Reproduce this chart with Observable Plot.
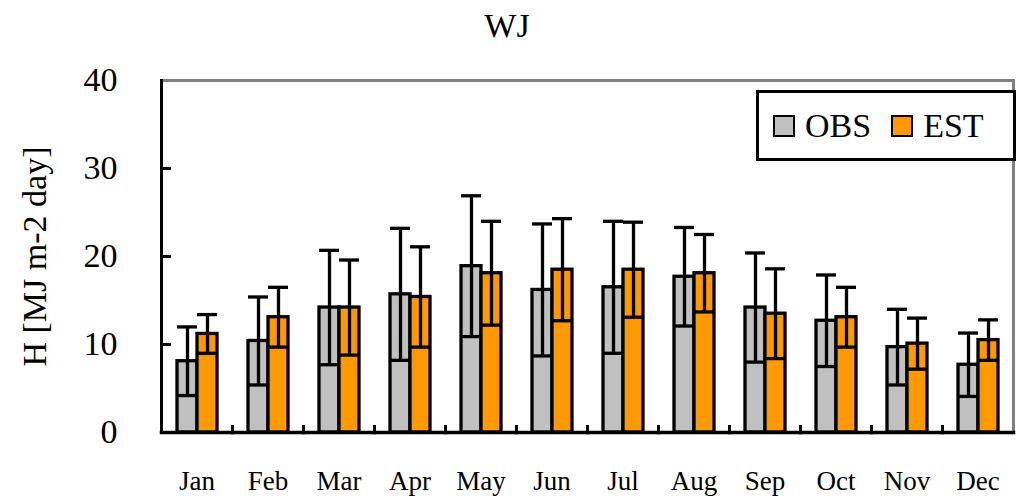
<!DOCTYPE html>
<html><head><meta charset="utf-8">
<script src="https://cdn.jsdelivr.net/npm/d3@7"></script>
<script src="https://cdn.jsdelivr.net/npm/@observablehq/plot@0.6"></script>
<style>
body{margin:0;background:#fff;}
#wrap{position:relative;width:1023px;height:498px;font-family:"Liberation Serif",serif;}
#title{position:absolute;left:0;top:6px;width:1014px;text-align:center;font-size:34px;line-height:40px;}
#legend{position:absolute;left:756px;top:90px;width:254px;height:65px;border:3px solid #000;background:#fff;display:flex;align-items:center;font-size:34px;}
.sw{display:inline-block;width:18px;height:18px;border:2px solid #000;margin-right:10px;}
.item{display:flex;align-items:center;}
</style></head>
<body><div id="wrap"><div id="chart"></div><div id="title">WJ</div><div id="legend"></div></div>
<script>
const months = ["Jan","Feb","Mar","Apr","May","Jun","Jul","Aug","Sep","Oct","Nov","Dec"];
const series = ["OBS","EST"];
const obsMean = [8.1, 10.4, 14.2, 15.7, 18.9, 16.2, 16.5, 17.7, 14.2, 12.7, 9.7, 7.7];
const obsSd   = [3.9, 5.0, 6.5, 7.5, 8.0, 7.5, 7.5, 5.6, 6.2, 5.2, 4.3, 3.6];
const estMean = [11.2, 13.1, 14.2, 15.4, 18.1, 18.5, 18.5, 18.1, 13.5, 13.1, 10.1, 10.5];
const estSd   = [2.2, 3.4, 5.4, 5.7, 5.9, 5.8, 5.4, 4.4, 5.1, 3.4, 2.9, 2.3];
const yTicks = [0, 10, 20, 30, 40];
const colors = ["#c0c0c0", "#ff9900"];

const data = months.flatMap((m, i) => [
  {month: m, series: "OBS", v: obsMean[i], sd: obsSd[i]},
  {month: m, series: "EST", v: estMean[i], sd: estSd[i]}
]);

const font = "Liberation Serif";
const chart = Plot.plot({
  width: 1023, height: 498,
  marginLeft: 157, marginRight: 6, marginTop: 80, marginBottom: 66,
  style: {fontFamily: font, background: "white", color: "black", overflow: "visible"},
  fx: {domain: months, padding: 0, label: null, axis: null},
  x: {domain: series, paddingInner: 0, paddingOuter: 0.7, axis: null},
  y: {domain: [0, 40], axis: null},
  color: {domain: series, range: colors},
  marks: [
    Plot.frame({anchor: "top", stroke: "#808080", strokeWidth: 3}),
    Plot.frame({anchor: "right", stroke: "#808080", strokeWidth: 3, facetAnchor: "right"}),
    Plot.barY(data, {fx: "month", x: "series", y: "v", fill: "series", stroke: "black", strokeWidth: 3.3}),
    Plot.ruleX(data, {fx: "month", x: "series", y1: d => d.v - d.sd, y2: d => d.v + d.sd, stroke: "black", strokeWidth: 3.3}),
    Plot.tickY(data, {fx: "month", x: "series", y: d => d.v + d.sd, stroke: "black", strokeWidth: 3.3}),
    Plot.tickY(data, {fx: "month", x: "series", y: d => d.v - d.sd, stroke: "black", strokeWidth: 3.3}),
    Plot.tickY(yTicks.slice(1, 4), {y: d => d, facetAnchor: "left", insetRight: 61, stroke: "black", strokeWidth: 3}),
    Plot.frame({anchor: "left", insetTop: 346, stroke: "black", strokeWidth: 3}),
    Plot.frame({anchor: "left", stroke: "black", strokeWidth: 3, facetAnchor: "left"}),
    Plot.frame({anchor: "bottom", stroke: "black", strokeWidth: 3.5}),
    Plot.axisY({ticks: yTicks, tickSize: 0, tickPadding: 44, fontSize: 34, fontFamily: font, fill: "black",
      label: "H [MJ m-2 day]", labelAnchor: "center", labelOffset: 140, labelArrow: "none"}),
    Plot.axisFx({anchor: "bottom", tickSize: 0, tickPadding: 38, fontSize: 27, fontFamily: font, fill: "black", label: null})
  ]
});
document.getElementById("chart").append(chart);

const legend = document.getElementById("legend");
series.forEach((s, i) => {
  const it = document.createElement("div");
  it.className = "item";
  it.style.marginLeft = i === 0 ? "14px" : "20px";
  it.innerHTML = `<span class="sw" style="background:${colors[i]}"></span><span>${s}</span>`;
  legend.append(it);
});
</script>
</body></html>
